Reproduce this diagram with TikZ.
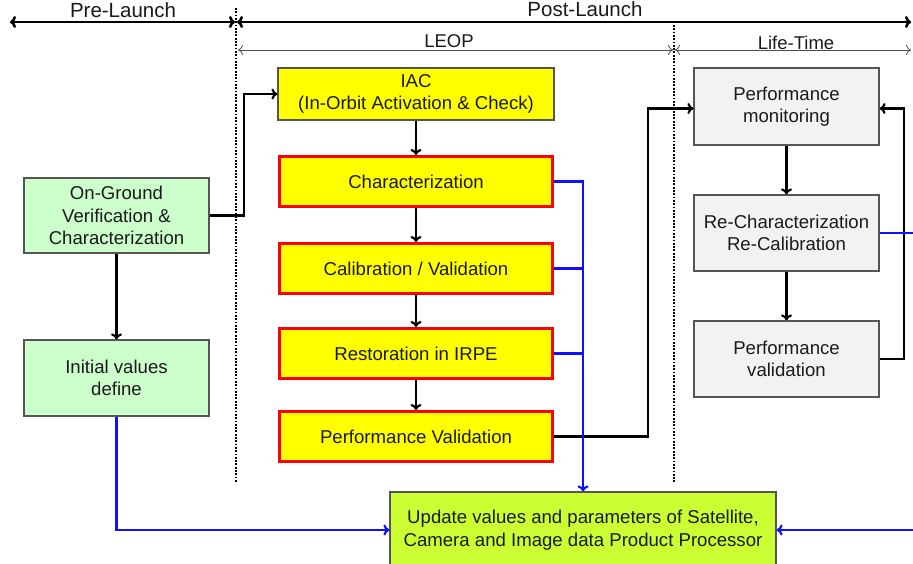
\documentclass[tikz,border=0pt]{standalone}
\usepackage{fontspec}
\setmainfont{Liberation Sans}
\usetikzlibrary{arrows.meta}
\definecolor{yel}{HTML}{FFFF00}
\definecolor{redb}{HTML}{FF0000}
\definecolor{grn}{HTML}{CCFFCC}
\definecolor{upd}{HTML}{CCFF33}
\definecolor{lgray}{HTML}{F2F2F2}
\definecolor{bord}{HTML}{555555}
\definecolor{txt}{HTML}{1A1A1A}
\definecolor{bl}{HTML}{1010FF}
\tikzset{
  box/.style={draw=bord, line width=1.2pt, inner sep=0pt, align=center, text=txt,
    font=\fontsize{18.6}{22.5}\selectfont},
  iacbox/.style={box, fill=yel, minimum width=276pt, minimum height=52pt},
  redbox/.style={box, draw=redb, line width=3pt, fill=yel, minimum width=273pt, minimum height=50pt},
  grnbox/.style={box, fill=grn, minimum width=185pt, minimum height=75pt},
  graybox/.style={box, fill=lgray, minimum width=185pt, minimum height=76pt},
  updbox/.style={box, fill=upd, minimum width=386pt, minimum height=76pt},
  conn/.style={line width=2.2pt, -{To[length=6pt,width=11pt]}},
  bconn/.style={conn, draw=bl},
  bline/.style={line width=2.2pt, draw=bl},
  sep/.style={line width=1.8pt, dash pattern=on 1.8pt off 1.5pt},
  phase/.style={line width=2.6pt, {To[length=6pt,width=12pt]}-{To[length=6pt,width=12pt]}},
  subphase/.style={line width=0.8pt, draw=black!70, {To[length=5pt,width=10pt]}-{To[length=5pt,width=10pt]}},
  lbl/.style={inner sep=0pt, text=txt}
}
\begin{document}
\begin{tikzpicture}[x=1pt,y=-1pt]
\useasboundingbox (0,0) rectangle (913,563);
% phase separators
\draw[sep] (236,8) -- (236,483);
\draw[sep] (674,25) -- (674,483);
% phase arrows
\coordinate (pl1) at (10,22);
\coordinate (pl2) at (235,22);
\coordinate (po1) at (237,22);
\coordinate (po2) at (911,22);
\draw[phase] (pl1) -- (pl2);
\draw[phase] (po1) -- (po2);
\node[lbl, font=\fontsize{20.5}{22}\selectfont] (prel) at (123,10) {Pre-Launch};
\node[lbl, font=\fontsize{20.5}{22}\selectfont] (postl) at (585,9) {Post-Launch};
\coordinate (le1) at (238,50);
\coordinate (le2) at (673,50);
\coordinate (lt1) at (675,50);
\coordinate (lt2) at (911,50);
\draw[subphase] (le1) -- (le2);
\draw[subphase] (lt1) -- (lt2);
\node[lbl, font=\fontsize{18.5}{20}\selectfont] (leop) at (449,41) {LEOP};
\node[lbl, font=\fontsize{18.5}{20}\selectfont] (life) at (796,43) {Life-Time};
% boxes
\node[iacbox] (iac) at (416,94) {IAC\\(In-Orbit Activation \& Check)};
\node[redbox] (char) at (416,181.5) {Characterization};
\node[redbox] (cal) at (416,268.5) {Calibration / Validation};
\node[redbox] (rest) at (416,353.5) {Restoration in IRPE};
\node[redbox] (pval) at (416,436.5) {Performance Validation};
\node[grnbox] (og) at (116.5,215.5) {On-Ground\\Verification \&\\Characterization};
\node[grnbox, minimum height=76pt] (iv) at (116.5,378) {Initial values\\define};
\node[updbox] (up) at (583,530) {Update values and parameters of Satellite,\\Camera and Image data Product Processor};
\node[graybox, minimum height=77pt] (pm) at (786.5,106.5) {Performance\\monitoring};
\node[graybox] (rc) at (786.5,233) {Re-Characterization\\Re-Calibration};
\node[graybox] (pvd) at (786.5,359) {Performance\\validation};
% black connectors
\draw[conn] (og.east) -- ++(34,0) |- (iac.west);
\draw[conn] (og.south) -- (iv.north);
\draw[conn] (iac.south) -- (char.north);
\draw[conn] (char.south) -- (cal.north);
\draw[conn] (cal.south) -- (rest.north);
\draw[conn] (rest.south) -- (pval.north);
\draw[conn] (pval.east) -- ++(94,0) |- ([yshift=-2pt]pm.west);
\draw[conn] (pm.south) -- (rc.north);
\draw[conn] (rc.south) -- (pvd.north);
\draw[conn] (pvd.east) -- ++(24,0) |- ([yshift=-2pt]pm.east);
% blue connectors
\draw[bline] (cal.east) -- (cal.east -| up.north);
\draw[bline] (rest.east) -- (rest.east -| up.north);
\draw[bconn] (char.east) -| (up.north);
\draw[bconn] (iv.south) |- (up.west);
\coordinate (rcout) at (913,233);
\coordinate (upin) at (913,530);
\draw[bline] (rc.east) -- (rcout);
\draw[bconn] (upin) -- (up.east);
\end{tikzpicture}
\end{document}
